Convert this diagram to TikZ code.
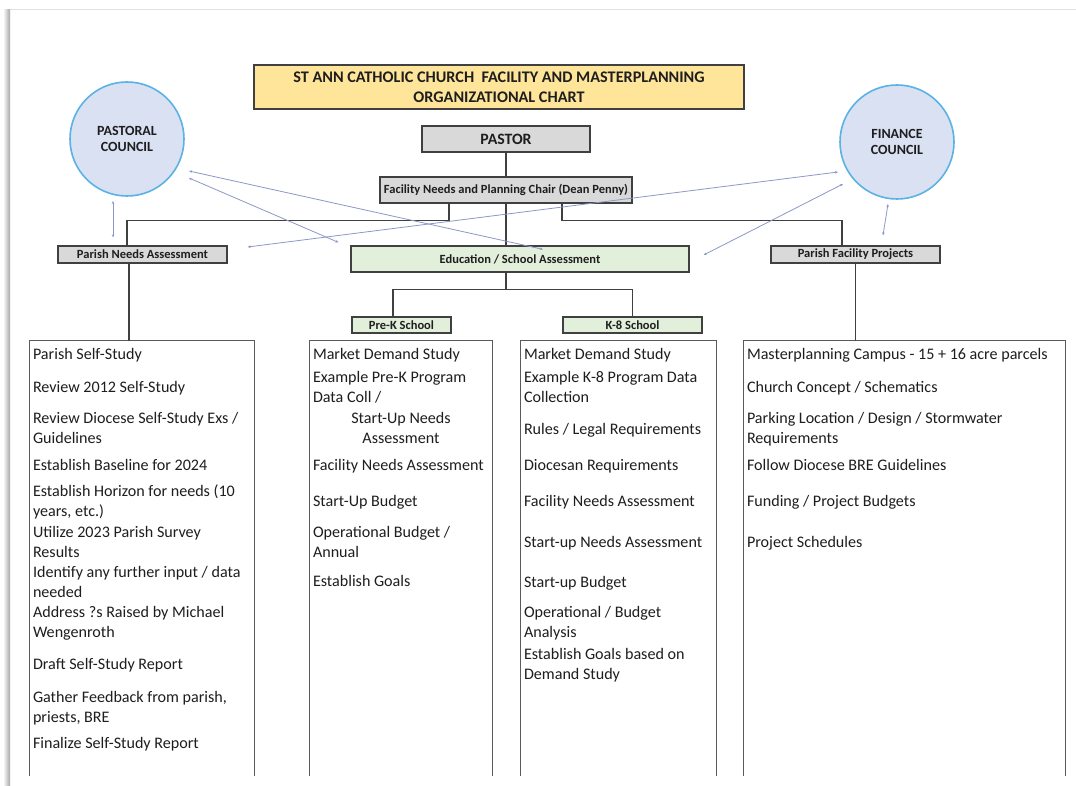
\documentclass[tikz,border=0pt]{standalone}
\usepackage{fontspec}
\setmainfont{Carlito}
\usetikzlibrary{calc,arrows.meta}

\definecolor{titlefill}{RGB}{255,229,153}
\definecolor{boxgray}{RGB}{217,217,217}
\definecolor{boxgreen}{RGB}{226,239,218}
\definecolor{councilfill}{RGB}{218,225,243}
\definecolor{councilring}{RGB}{91,178,228}
\definecolor{edgegray}{RGB}{64,64,64}
\definecolor{colgray}{RGB}{90,90,90}
\definecolor{crossblue}{RGB}{140,152,200}
\definecolor{inkgray}{RGB}{30,30,30}

\begin{document}
\begin{tikzpicture}[x=1pt,y=-1pt,
    every node/.style={text=inkgray},
    box/.style={draw=edgegray, line width=1.3pt, inner sep=0pt,
      font=\bfseries\fontsize{12.5}{15}\selectfont},
    graybox/.style={box, fill=boxgray},
    greenbox/.style={box, fill=boxgreen},
    council/.style={circle, draw=councilring, line width=1.6pt, fill=councilfill,
      minimum size=114, inner sep=0pt, align=center,
      font=\bfseries\fontsize{14}{16}\selectfont},
    link/.style={draw=edgegray, line width=1.3pt},
    colline/.style={draw=colgray, line width=1pt},
    item/.style={anchor=north west, inner sep=0pt, align=left,
      font=\fontsize{16.1}{20}\selectfont},
    crossline/.style={draw=crossblue, line width=0.8pt,
      {Stealth[length=3pt,width=2.5pt]}-{Stealth[length=3pt,width=2.5pt]}}]

  % page and its shadow
  \fill[white] (0,0) rectangle (1076,786);
  \useasboundingbox (0,0) rectangle (1076,786);
  \shade[left color=white, right color=black!35] (3,10) rectangle (10,786);
  \draw[black!12, line width=1pt] (10,10) -- (1076,10);

  % heading, councils and the chain of boxes
  \node[box, fill=titlefill, minimum width=490, minimum height=44, align=center,
    font=\bfseries\fontsize{16.2}{20}\selectfont] (title) at (499,87)
    {ST ANN CATHOLIC CHURCH\ \ FACILITY AND MASTERPLANNING\\ORGANIZATIONAL CHART};

  \node[council] (pastoral) at (127,139) {PASTORAL\\COUNCIL};
  \node[council] (finance) at (897,142) {FINANCE\\COUNCIL};

  \node[graybox, minimum width=168, minimum height=26,
    font=\bfseries\fontsize{15.8}{18}\selectfont] (pastor) at (506,139) {PASTOR};
  \node[graybox, minimum width=252, minimum height=26] (chair) at (506,190)
    {Facility Needs and Planning Chair (Dean Penny)};
  \node[graybox, minimum width=169, minimum height=17] (pneeds) at (142.5,254.5)
    {Parish Needs Assessment};
  \node[greenbox, minimum width=338, minimum height=26] (edu) at (520,259)
    {Education / School Assessment};
  \node[graybox, minimum width=169, minimum height=17] (pfac) at (855.5,254.5)
    {Parish Facility Projects};
  \node[greenbox, minimum width=99, minimum height=16] (prek) at (401.5,325) {Pre-K School};
  \node[greenbox, minimum width=139, minimum height=16] (keight) at (632.5,325) {K-8 School};

  % the four open columns
  \foreach \n/\cx/\w in {colA/142/224, colB/401/182, colC/618.5/195, colD/904.5/321}{
    \node[minimum width=\w, minimum height=435, inner sep=0pt] (\n) at (\cx,558.5) {};
    \draw[colline] (\n.south west) -- (\n.north west) -- (\n.north east) -- (\n.south east);
  }

  % items: \y is the first baseline below the column top
  \foreach \y/\t in {18/{Parish Self-Study}, 51/{Review 2012 Self-Study},
      82/{Review Diocese Self-Study Exs /\\Guidelines}, 129/{Establish Baseline for 2024},
      155/{Establish Horizon for needs (10\\years, etc.)}, 196/{Utilize 2023 Parish Survey\\Results},
      236/{Identify any further input / data\\needed}, 276/{Address ?s Raised by Michael\\Wengenroth},
      328/{Draft Self-Study Report}, 361/{Gather Feedback from parish,\\priests, BRE},
      407/{Finalize Self-Study Report}}
    \node[item] at ($(colA.north west)+(3,\y-14)$) {\strut\t};

  \foreach \y/\t in {18/{Market Demand Study}, 41/{Example Pre-K Program\\Data Coll /},
      129/{Facility Needs Assessment}, 165/{Start-Up Budget},
      196/{Operational Budget /\\Annual}, 245/{Establish Goals}}
    \node[item] at ($(colB.north west)+(3,\y-14)$) {\strut\t};
  \node[item, anchor=north, align=center] at ($(colB.north)+(0,68)$) {\strut Start-Up Needs\\Assessment};

  \foreach \y/\t in {18/{Market Demand Study}, 41/{Example K-8 Program Data\\Collection},
      93/{Rules / Legal Requirements}, 129/{Diocesan Requirements},
      165/{Facility Needs Assessment}, 206/{Start-up Needs Assessment},
      246/{Start-up Budget}, 276/{Operational / Budget\\Analysis},
      318/{Establish Goals based on\\Demand Study}}
    \node[item] at ($(colC.north west)+(3,\y-14)$) {\strut\t};

  \foreach \y/\t in {18/{Masterplanning Campus - 15 + 16 acre parcels},
      51/{Church Concept / Schematics}, 82/{Parking Location / Design / Stormwater\\Requirements},
      129/{Follow Diocese BRE Guidelines}, 165/{Funding / Project Budgets},
      206/{Project Schedules}}
    \node[item] at ($(colD.north west)+(3,\y-14)$) {\strut\t};

  % reporting lines
  \draw[link] (pastor) -- (chair);
  \draw[link] (chair.south) -- (chair.south |- edu.north);
  \draw[link] ($(chair.south)+(-57,0)$) -- ++(0,17) -| ($(pneeds.north)+(-15.5,0)$);
  \draw[link] ($(chair.south)+(56,0)$) -- ++(0,17) -| ($(pfac.north)+(-13.5,0)$);
  \draw[link] ($(edu.south)+(-14,0)$) -- ++(0,17) coordinate (split) -| ($(prek.north)+(-8.5,0)$);
  \draw[link] (split) -| (keight.north);
  \draw[link] ($(pneeds.south)+(-13.5,0)$) coordinate (pn) -- (pn |- colA.north);
  \draw[link] (pfac.south) coordinate (pf) -- (pf |- colD.north);

  % council links
  \coordinate (pasA) at ($(pastoral)+(62,32)$);
  \coordinate (pasB) at ($(pastoral)+(62,39)$);
  \coordinate (pasC) at ($(pastoral)+(-14,62)$);
  \coordinate (finA) at ($(finance)+(-59,30)$);
  \coordinate (finB) at ($(finance)+(-54,42)$);
  \coordinate (finC) at ($(finance)+(-9,62)$);
  \coordinate (eduA) at ($(edu.north)+(23,4)$);
  \coordinate (eduB) at ($(edu.north west)+(-12,-3)$);
  \coordinate (pneA) at ($(pneeds.east)+(20,-7.5)$);
  \coordinate (eduC) at ($(edu.east)+(14,-4)$);
  \coordinate (pneB) at ($(pneeds.north)+(-29.5,-8)$);
  \coordinate (pfaB) at ($(pfac.north)+(27.5,-10)$);
  \draw[crossline] (pasA) -- (eduA);
  \draw[crossline] (pasB) -- (eduB);
  \draw[crossline] (pneA) -- (finA);
  \draw[crossline] (eduC) -- (finB);
  \draw[crossline] (pasC) -- (pneB);
  \draw[crossline] (finC) -- (pfaB);
\end{tikzpicture}
\end{document}
